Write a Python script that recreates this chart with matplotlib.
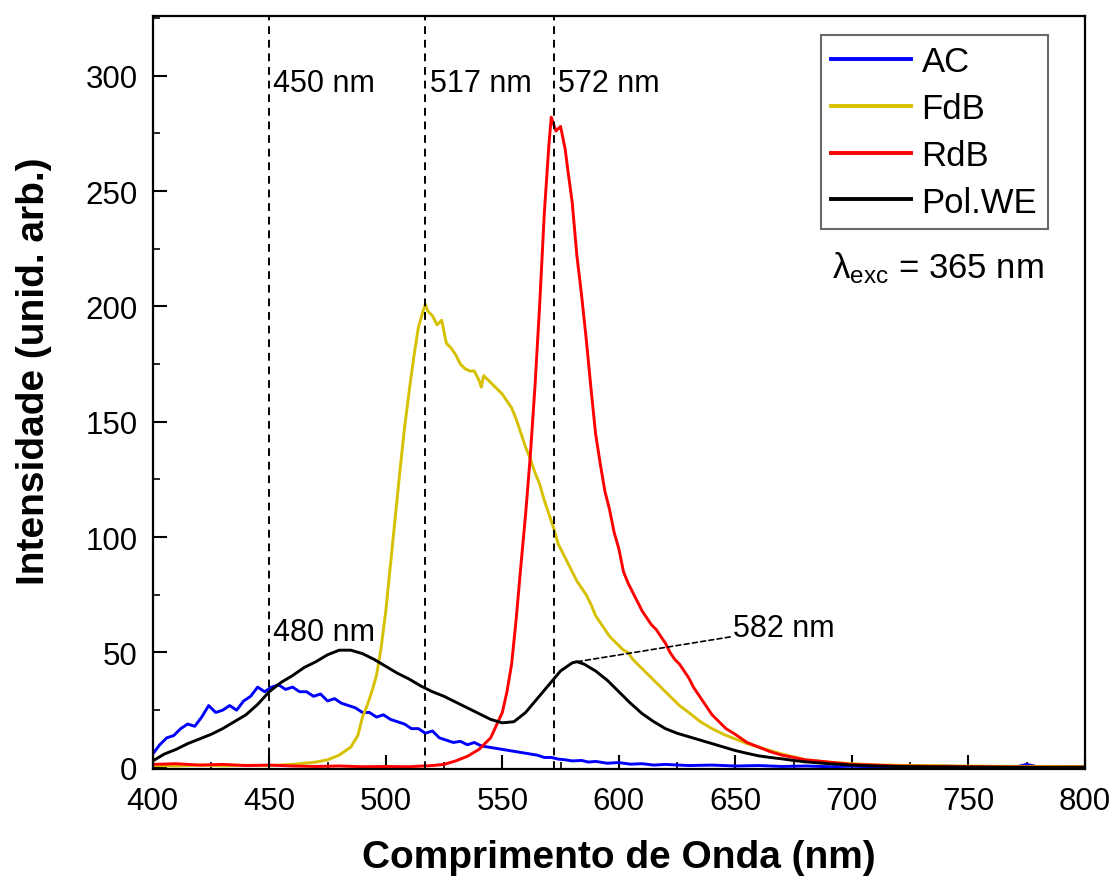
import matplotlib
matplotlib.use("Agg")
import matplotlib.pyplot as plt

plt.rcParams['font.family'] = ['Liberation Sans', 'DejaVu Sans']
plt.rcParams['mathtext.fontset'] = 'custom'
plt.rcParams['mathtext.rm'] = 'Liberation Sans'
plt.rcParams['mathtext.it'] = 'Liberation Sans:italic'

# ---------------- data ----------------
ac_x = [400, 403, 406, 409, 412, 415, 418, 421, 424, 427, 430, 433, 436, 439, 442, 445, 448, 451, 454, 457,
        460, 463, 466, 469, 472, 475, 478, 481, 484, 487, 490, 493, 496, 499, 502, 505, 508, 511, 514, 517,
        520, 523, 526, 529, 532, 535, 538, 541, 544, 547, 550, 553, 556, 559, 562, 565, 568, 571, 574, 577,
        580, 584, 587, 590, 595, 600, 605, 610, 615, 620, 630, 640, 650, 660, 670, 680, 690, 700, 710, 720,
        730, 740, 750, 760, 770, 775, 780, 790, 800]
ac_y = [6, 10, 13, 14, 17, 19, 18, 22, 27, 24, 25, 27, 25, 29, 31, 35, 33, 35, 36, 34,
        35, 33, 33, 31, 32, 29, 30, 28, 27, 26, 24, 24, 22, 23, 21, 20, 19, 17, 17, 15,
        16, 13, 12, 11, 11.5, 10, 11, 9.5, 9, 8.5, 8, 7.5, 7, 6.5, 6, 5.5, 4.5, 4.5, 3.8, 3.5,
        3.0, 3.2, 2.5, 2.8, 2.0, 2.3, 1.6, 1.8, 1.2, 1.5, 1.0, 1.2, 0.8, 1.0, 0.6, 0.8, 0.5, 0.7, 0.4, 0.6,
        0.4, 0.8, 0.4, 0.6, 0.3, 1.5, 0.4, 0.6, 0.5]

fdb_x = [400, 410, 420, 430, 440, 450, 460, 470, 475, 480, 485, 488, 490, 492, 494, 496, 498, 500, 502, 504,
         506, 508, 510, 512, 514, 516, 517, 518, 520, 522, 524, 526, 528, 530, 532, 534, 536, 538, 540, 541,
         542, 544, 546, 548, 550, 552, 554, 556, 558, 560, 562, 564, 566, 568, 570, 572, 574, 576, 578, 580,
         582, 584, 586, 588, 590, 592, 594, 596, 598, 600, 602, 604, 606, 608, 610, 614, 618, 622, 626, 630,
         635, 640, 645, 650, 655, 660, 665, 670, 675, 680, 690, 700, 710, 720, 740, 760, 780, 800]
fdb_y = [1.0, 0.8, 1.2, 0.9, 1.1, 1.0, 1.5, 2.5, 3.5, 5.5, 9, 14, 22, 27, 33, 40, 52, 68, 88, 108,
         128, 147, 163, 178, 191, 198, 201, 198, 196, 192, 194, 184, 182, 179, 175, 173, 172, 172, 168, 165,
         170, 168, 166, 164, 162, 159, 156, 151, 145, 139, 134, 128, 123, 116, 110, 104, 97, 93, 89, 85,
         81, 78, 75, 71, 66, 63, 60, 57, 55, 53, 51, 50, 47, 45, 43, 39, 35, 31, 27, 24,
         20, 17, 14.5, 12.5, 10.5, 9, 7.5, 6, 4.8, 3.5, 2.5, 1.8, 1.3, 1.1, 0.9, 0.7, 0.6, 0.5]

rdb_x = [400, 410, 420, 430, 440, 450, 460, 470, 480, 490, 500, 510, 520, 525, 530, 535, 540, 545, 550, 552,
         554, 556, 558, 560, 562, 564, 566, 568, 570, 571, 573, 575, 577, 578, 580, 582, 584, 586, 588, 590,
         592, 594, 596, 598, 600, 602, 604, 606, 608, 610, 612, 614, 616, 618, 620, 622, 624, 626, 628, 630,
         632, 634, 636, 638, 640, 643, 646, 650, 655, 660, 665, 670, 675, 680, 690, 700, 710, 720, 740, 760,
         780, 800]
rdb_y = [1.5, 1.8, 1.2, 1.5, 1.0, 1.2, 0.8, 0.6, 0.8, 0.5, 0.6, 0.5, 1.0, 1.5, 3, 5, 8, 13, 24, 33,
         45, 65, 88, 110, 135, 165, 200, 240, 270, 282, 276, 278, 268, 260, 245, 222, 205, 186, 165, 145,
         132, 120, 112, 102, 95, 85, 80, 76, 72, 68, 65, 62, 60, 57, 54, 50, 47, 45, 42, 39,
         35, 32, 29, 26, 23, 20, 17, 14.5, 11, 9, 7, 5.5, 4.5, 3.5, 2.5, 1.5, 1.2, 0.8, 0.6, 0.4,
         0.3, 0.3]

pol_x = [400, 405, 410, 415, 420, 425, 430, 435, 440, 445, 450, 455, 460, 465, 470, 475, 480, 485, 490, 495,
         500, 505, 510, 515, 520, 525, 530, 535, 540, 545, 550, 555, 560, 565, 570, 575, 580, 582, 585, 590,
         595, 600, 605, 610, 615, 620, 625, 630, 635, 640, 645, 650, 655, 660, 665, 670, 675, 680, 690, 700,
         710, 720, 740, 760, 780, 800]
pol_y = [3, 6, 8, 10.5, 12.5, 14.5, 17, 20, 23, 27.5, 33, 37, 40, 43.5, 46, 49, 51, 51, 49.5, 47,
         44, 41, 38.5, 35.5, 33, 31, 28.5, 26, 23.5, 21, 19.5, 20, 24, 30, 36, 42, 45.5, 46, 45, 42,
         38, 33, 28, 23.5, 20, 17, 15, 13.5, 12, 10.5, 9, 7.5, 6.3, 5.2, 4.5, 3.9, 3.2, 2.6, 1.8, 1.2,
         0.8, 0.6, 0.4, 0.3, 0.2, 0.2]

series_labels = ["AC", "FdB", "RdB", "Pol.WE"]
series_colors = ["#0000ff", "#d6c000", "#ff0000", "#000000"]

vlines_nm = [450, 517, 572]
peak_labels = ["450 nm", "517 nm", "572 nm"]
xticks = [400, 450, 500, 550, 600, 650, 700, 750, 800]
yticks = [0, 50, 100, 150, 200, 250, 300]

# ---------------- figure ----------------
fig = plt.figure(figsize=(11.15, 8.78), dpi=100)
ax = fig.add_axes([0.137, 0.123, 0.836, 0.858])

for xs, ys, lab, col in zip([ac_x, fdb_x, rdb_x, pol_x], [ac_y, fdb_y, rdb_y, pol_y],
                            series_labels, series_colors):
    ax.plot(xs, ys, color=col, lw=2.1, label=lab)

for v in vlines_nm:
    ax.axvline(v, color='black', lw=1.4, ls=(0, (4, 3)))

ax.set_xlim(400, 800)
ax.set_ylim(-0.5, 326)
ax.set_xticks(xticks)
ax.set_yticks(yticks)
ax.set_xticks([x + 25 for x in xticks[:-1]], minor=True)
ax.set_yticks([y + 25 for y in yticks], minor=True)
ax.tick_params(which='major', direction='in', length=10, width=1.5, labelsize=22.5,
               top=False, right=False)
ax.tick_params(axis='x', which='major', pad=12)
ax.tick_params(axis='y', which='major', pad=11)
ax.tick_params(which='minor', direction='in', length=5, width=1.2, top=False, right=False)
for s in ax.spines.values():
    s.set_linewidth(1.6)

ax.set_xlabel("Comprimento de Onda (nm)", fontsize=28, fontweight='bold', labelpad=17)
ax.set_ylabel("Intensidade (unid. arb.)", fontsize=28, fontweight='bold')
ax.yaxis.set_label_coords(-0.108, 0.529)

# peak labels
for v, t in zip(vlines_nm, peak_labels):
    ax.text(v + 1.8, 297, t, fontsize=22, ha='left', va='center')
ax.text(451.8, 59, "480 nm", fontsize=22, ha='left', va='center')
ax.annotate("582 nm", xy=(582, 46), xytext=(649, 60.5), fontsize=22, ha='left', va='center',
            arrowprops=dict(arrowstyle='-', ls=(0, (3, 2)), lw=1.2, color='black',
                            shrinkA=0, shrinkB=0))

ax.text(691.5, 217, r"λ$_{\mathrm{exc}}$ = 365 nm", fontsize=25, ha='left', va='center')

leg = ax.legend(loc='upper right', bbox_to_anchor=(0.96, 0.975), fontsize=25, frameon=True,
                fancybox=False, edgecolor='#444444', handlelength=2.3, handletextpad=0.3,
                labelspacing=0.4, borderpad=0.3, borderaxespad=0)
leg.get_frame().set_linewidth(1.5)
for line in leg.get_lines():
    line.set_linewidth(2.8)

fig.savefig("out.png", dpi=100)
